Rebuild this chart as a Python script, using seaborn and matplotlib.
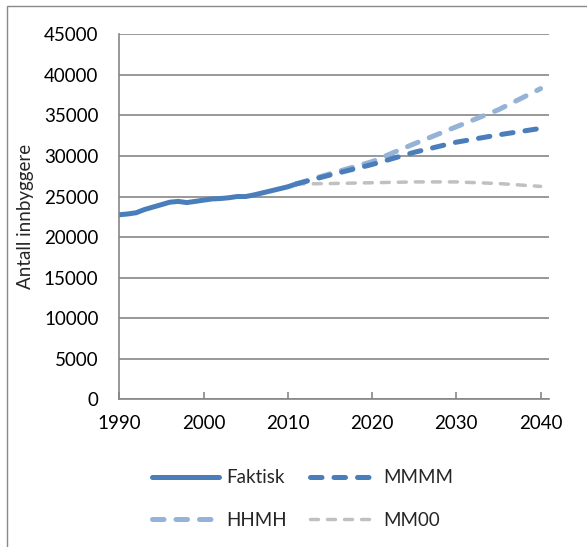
import matplotlib
matplotlib.use("Agg")
import matplotlib.pyplot as plt
import seaborn as sns
import pandas as pd
from matplotlib.patches import Rectangle

# ---- data ----
faktisk_years = list(range(1990, 2012))
faktisk_vals = [22750, 22850, 23000, 23400, 23700, 24000, 24300, 24400, 24250, 24400,
                24550, 24700, 24750, 24850, 25000, 25000, 25200, 25450, 25700, 25950,
                26200, 26550]

proj_years = [2011, 2015, 2020, 2025, 2030, 2035, 2040]
mmmm_vals = [26550, 27650, 28950, 30450, 31700, 32600, 33400]
hhmh_vals = [26550, 27800, 29300, 31500, 33600, 35700, 38300]
mm00_vals = [26550, 26600, 26700, 26800, 26800, 26600, 26250]

x_ticks = [1990, 2000, 2010, 2020, 2030, 2040]
y_ticks = [0, 5000, 10000, 15000, 20000, 25000, 30000, 35000, 40000, 45000]

# ---- style ----
sns.set_style("white")
plt.rcParams['font.family'] = ['Lato', 'DejaVu Sans']

W, H = 587, 547
fig = plt.figure(figsize=(W / 100, H / 100), dpi=100)
ax = fig.add_axes([119.3 / W, 1 - 399.3 / H, (549 - 119.3) / W, (399.3 - 34.3) / H])

dark = "#4A7EBB"
light = "#95B3D7"
grey = "#C0C0C0"

df_f = pd.DataFrame({"år": faktisk_years, "v": faktisk_vals})
sns.lineplot(data=df_f, x="år", y="v", ax=ax, color=dark, lw=3.6,
             solid_capstyle="round", label="Faktisk")

df_p = pd.DataFrame({"år": proj_years, "MMMM": mmmm_vals, "HHMH": hhmh_vals, "MM00": mm00_vals})
sns.lineplot(data=df_p, x="år", y="MM00", ax=ax, color=grey, lw=2.5, label="MM00")
ax.lines[-1].set_linestyle((0, (2.3, 2.6)))
ax.lines[-1].set_dash_capstyle("round")
sns.lineplot(data=df_p, x="år", y="HHMH", ax=ax, color=light, lw=3.6, label="HHMH")
ax.lines[-1].set_linestyle((0, (2.3, 2.4)))
ax.lines[-1].set_dash_capstyle("round")
sns.lineplot(data=df_p, x="år", y="MMMM", ax=ax, color=dark, lw=3.6, label="MMMM")
ax.lines[-1].set_linestyle((0, (2.3, 2.4)))
ax.lines[-1].set_dash_capstyle("round")

lines = {l.get_label(): l for l in ax.lines}
if ax.get_legend():
    ax.get_legend().remove()

ax.set_xlim(1990, 2041)
ax.set_ylim(0, 45000)
ax.set_xticks(x_ticks)
ax.set_xticklabels([str(t) for t in x_ticks])
ax.set_yticks(y_ticks)
ax.set_yticklabels([str(t) for t in y_ticks])
ax.set_xlabel("")
ax.set_ylabel("Antall innbyggere", fontsize=13.5, labelpad=7)

gc = "#868686"
ax.grid(axis="y", color=gc, lw=1.2)
ax.grid(axis="x", visible=False)
for s in ["top", "right"]:
    ax.spines[s].set_visible(False)
for s in ["left", "bottom"]:
    ax.spines[s].set_color(gc)
    ax.spines[s].set_linewidth(1.2)
ax.tick_params(axis="x", direction="in", length=5, width=1.2, color=gc, pad=11,
               labelsize=13.5, labelcolor="black", bottom=True)
ax.tick_params(axis="y", length=0, pad=15, labelsize=13.5, labelcolor="black")

order = ["Faktisk", "HHMH", "MMMM", "MM00"]
fig.legend([lines[k] for k in order], order, ncol=2, frameon=False,
           loc="center", bbox_to_anchor=(303 / W, 1 - 499 / H),
           fontsize=13.5, handlelength=3.55, handletextpad=0.4, columnspacing=1.2,
           labelspacing=1.35, borderpad=0)

# outer border (chart area frame)
fig.patches.append(Rectangle((7 / W, -0.1), 1.2, 1.1 - 6 / H, transform=fig.transFigure,
                             fill=False, edgecolor="#898989", lw=1.0))

fig.savefig("out.png", dpi=100)
